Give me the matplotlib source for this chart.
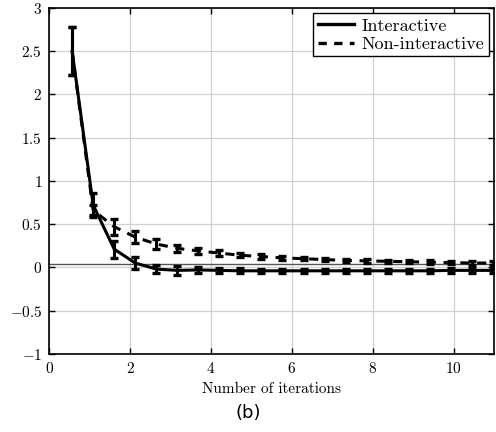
import numpy as np
import matplotlib
matplotlib.use("Agg")
import matplotlib.pyplot as plt
from matplotlib.lines import Line2D

plt.rcParams.update({
    "font.family": "serif",
    "font.serif": ["cmr10"],
    "mathtext.fontset": "cm",
    "axes.formatter.use_mathtext": True,
    "font.size": 11,
})

# data
iters = [0.57, 1.09, 1.61, 2.13, 2.65, 3.17, 3.69, 4.21, 4.73, 5.25, 5.77,
         6.29, 6.81, 7.33, 7.85, 8.37, 8.89, 9.41, 9.93, 10.45, 10.97]
inter_mean = [2.5, 0.72, 0.21, 0.05, -0.02, -0.035, -0.03, -0.035, -0.04, -0.04, -0.04,
              -0.04, -0.04, -0.04, -0.04, -0.04, -0.04, -0.04, -0.035, -0.035, -0.035]
inter_err = [0.28, 0.14, 0.1, 0.07, 0.05, 0.05, 0.035, 0.03, 0.03, 0.025, 0.025,
             0.025, 0.025, 0.025, 0.025, 0.025, 0.025, 0.025, 0.025, 0.025, 0.025]
nonint_mean = [2.5, 0.66, 0.47, 0.35, 0.27, 0.22, 0.19, 0.165, 0.14, 0.125, 0.11,
               0.1, 0.09, 0.08, 0.075, 0.07, 0.065, 0.06, 0.055, 0.05, 0.05]
nonint_err = [0.28, 0.06, 0.09, 0.07, 0.06, 0.04, 0.035, 0.03, 0.025, 0.025, 0.02,
              0.02, 0.02, 0.02, 0.02, 0.02, 0.02, 0.02, 0.02, 0.02, 0.02]
baseline = 0.04
xticks = [0, 2, 4, 6, 8, 10]
yticks = [-1, -0.5, 0, 0.5, 1, 1.5, 2, 2.5, 3]
ytick_labels = ["$-1$", "$-0.5$", "$0$", "$0.5$", "$1$", "$1.5$", "$2$", "$2.5$", "$3$"]

fig = plt.figure(figsize=(4.96, 4.32), dpi=100)
ax = fig.add_axes([0.099, 0.181, 0.897, 0.8005])

ax.axhline(baseline, color="#555555", linewidth=1.0, zorder=2)
ax.errorbar(iters, inter_mean, yerr=inter_err, color="black", linewidth=2.2,
            elinewidth=2.2, capsize=3, capthick=2.4, zorder=4)
ax.errorbar(iters, nonint_mean, yerr=nonint_err, color="black", linewidth=2.2,
            linestyle="--", dashes=(3, 2.5), elinewidth=2.2, capsize=3, capthick=2.4,
            zorder=3)

ax.set_xlim(0, 11)
ax.set_ylim(-1, 3)
ax.set_xticks(xticks)
ax.set_xticklabels([f"${t}$" for t in xticks])
ax.set_yticks(yticks)
ax.set_yticklabels(ytick_labels)
ax.grid(True, color="#d0d0d0", linewidth=0.9)
ax.set_axisbelow(True)
ax.tick_params(direction="in", top=True, right=True, length=4, width=1,
               labelsize=11, pad=5)
for s in ax.spines.values():
    s.set_linewidth(1.2)
ax.set_xlabel("Number of iterations", fontsize=11, labelpad=5)

handles = [Line2D([], [], color="black", linewidth=2.4),
           Line2D([], [], color="black", linewidth=2.4, linestyle="--", dashes=(2.5, 2.2))]
leg = ax.legend(handles, ["Interactive", "Non-interactive"], loc="upper right",
                fancybox=False, edgecolor="black", framealpha=1, fontsize=13,
                handlelength=2.0, borderpad=0.25, labelspacing=0.15,
                handletextpad=0.4, borderaxespad=0.3)
leg.get_frame().set_linewidth(1.0)

fig.text(0.5, 0.022, "(b)", ha="center", va="bottom", fontsize=13, family="DejaVu Sans")

fig.savefig("out.png", dpi=100)
